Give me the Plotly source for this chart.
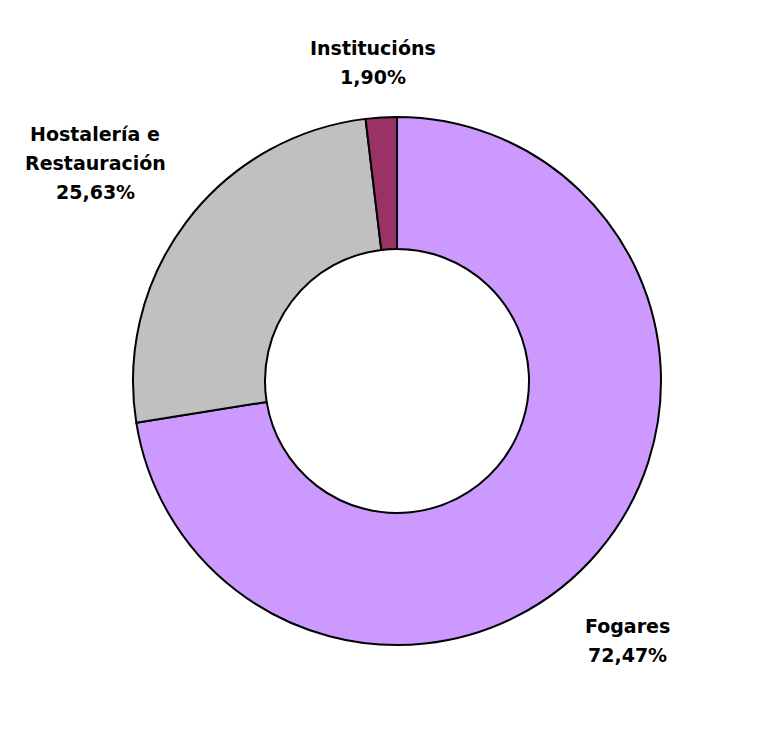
import plotly.graph_objects as go

# Share of consumption by destination
labels = ["Fogares", "Hostalería e|Restauración", "Institucións"]
values = [72.47, 25.63, 1.90]
colors = ["#CC99FF", "#C0C0C0", "#993366"]

# Caption placement (pixels): centre x and the y of the first line for each slice
label_x = [627, 95, 373]
label_y0 = [626, 134, 48]
line_step = 29

W, H = 771, 742
cx, cy, r = 397, 381, 264

fig = go.Figure(go.Pie(
    labels=[l.replace("|", " ") for l in labels],
    values=values,
    sort=False,
    direction="clockwise",
    rotation=0,
    hole=0.5,
    textinfo="none",
    hoverinfo="label+percent",
    marker=dict(colors=colors, line=dict(color="black", width=2)),
    domain=dict(x=[(cx - r) / W, (cx + r) / W],
                y=[(H - cy - r) / H, (H - cy + r) / H]),
    showlegend=False,
))

for lab, v, x, y0 in zip(labels, values, label_x, label_y0):
    lines = lab.split("|") + [f"{v:.2f}".replace(".", ",") + "%"]
    for i, line in enumerate(lines):
        fig.add_annotation(
            x=x / W, y=1 - (y0 + i * line_step) / H, xref="paper", yref="paper",
            text=f"<b>{line}</b>", showarrow=False,
            xanchor="center", yanchor="middle", align="center",
            font=dict(family="DejaVu Sans", size=19, color="black"),
        )

fig.update_layout(
    width=W, height=H,
    margin=dict(l=0, r=0, t=0, b=0),
    paper_bgcolor="white",
    plot_bgcolor="white",
)

fig.write_html("out.html")
